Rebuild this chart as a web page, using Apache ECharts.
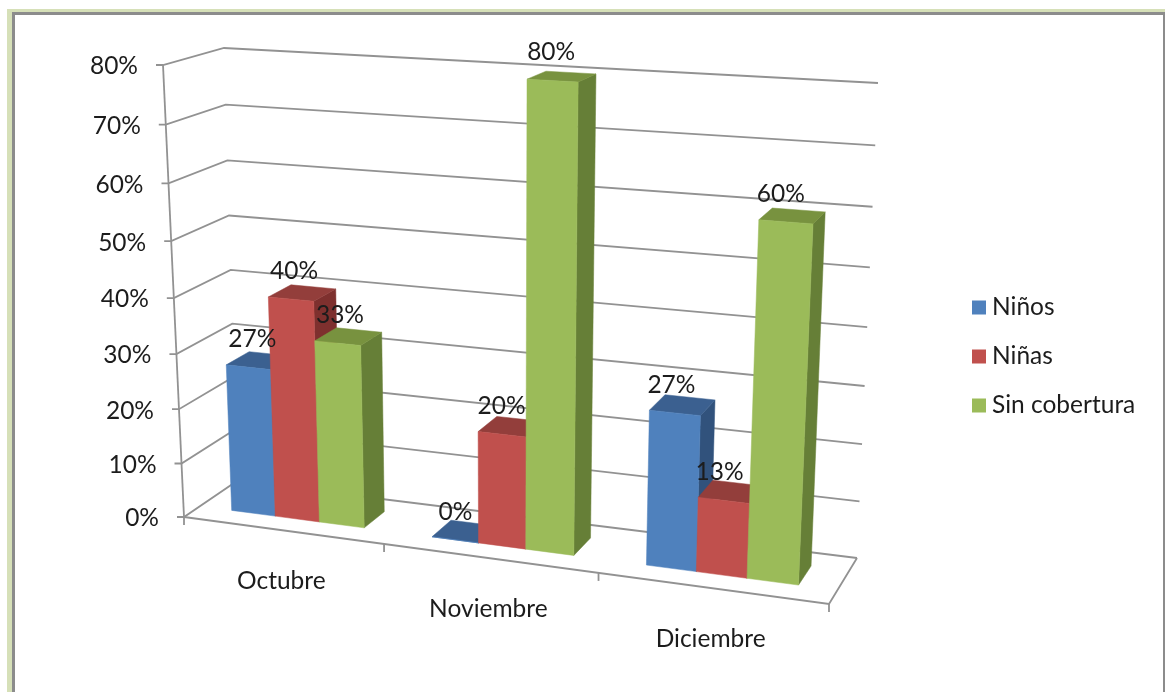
<!DOCTYPE html>
<html><head><meta charset="utf-8">
<style>html,body{margin:0;padding:0;background:#fff}#c{width:1165px;height:692px}</style>
<script src="https://cdn.jsdelivr.net/npm/echarts@6/dist/echarts.min.js"></script>
</head><body><div id="c"></div>
<script>
const categories = ['Octubre', 'Noviembre', 'Diciembre'];
const ninos = [27, 0, 27];
const ninas = [40, 20, 13];
const sinCobertura = [33, 80, 60];
const valueTicks = [0, 10, 20, 30, 40, 50, 60, 70, 80];
const seriesNames = ['Niños', 'Niñas', 'Sin cobertura'];

const FONT = 'Lato, "Open Sans", sans-serif';
const TEXT = '#1c1c1c', LINE = '#929292';
// perspective of the 3D box: screen corners of the front and back planes
function homography(p00, p10, p11, p01) {
  const dx1 = p10[0] - p11[0], dx2 = p01[0] - p11[0], sx = p00[0] - p10[0] + p11[0] - p01[0];
  const dy1 = p10[1] - p11[1], dy2 = p01[1] - p11[1], sy = p00[1] - p10[1] + p11[1] - p01[1];
  const det = dx1 * dy2 - dx2 * dy1;
  const g = (sx * dy2 - dx2 * sy) / det, h = (dx1 * sy - sx * dy1) / det;
  const a = p10[0] - p00[0] + g * p10[0], b = p01[0] - p00[0] + h * p01[0];
  const d = p10[1] - p00[1] + g * p10[1], e = p01[1] - p00[1] + h * p01[1];
  return (t, s) => {
    const q = g * t + h * s + 1;
    return [(a * t + b * s + p00[0]) / q, (d * t + e * s + p00[1]) / q];
  };
}
const frontPlane = homography([184, 517], [829, 604], [852, 104], [163, 65]);
const backPlane = homography([237, 481], [857, 558], [878, 83], [224, 48]);
function project(t, s, w) {
  const f = frontPlane(t, s), b = backPlane(t, s);
  return [f[0] + (b[0] - f[0]) * w, f[1] + (b[1] - f[1]) * w];
}
const DEPTH0 = 0.30, DEPTH1 = 0.72, MARGIN = 0.165, BAR = 0.223;
function norm(params, api, cat, val) {
  const r = params.coordSys, p = api.coord([cat, val]);
  return [(p[0] - r.x) / r.width, (r.y + r.height - p[1]) / r.height, api.size([1, 0])[0] / r.width];
}
function line(points, width) {
  return { type: 'polyline', shape: { points }, style: { stroke: LINE, lineWidth: width || 1.8, fill: null }, silent: true };
}
function text(x, y, str, size, align) {
  return { type: 'text', x, y, silent: true, style: { text: str, fill: TEXT, font: size + 'px ' + FONT, align: align || 'center', verticalAlign: 'middle' } };
}
function poly(points, fill) {
  return { type: 'polygon', shape: { points }, style: { fill, stroke: fill, lineWidth: 0.5 }, silent: true };
}
const shades = [
  { front: '#4F81BD', top: '#3B6090', side: '#31527C' },
  { front: '#C0504D', top: '#933E3B', side: '#7E302E' },
  { front: '#9BBB59', top: '#78923F', side: '#667F37' }
];
function barSeries(name, values, j) {
  return {
    name, type: 'custom', coordinateSystem: 'cartesian2d', z: 3 + j,
    itemStyle: { color: shades[j].front },
    data: values.map((v, i) => [categories[i], v]),
    renderItem(params, api) {
      const n = norm(params, api, api.value(0), api.value(1));
      const t0 = n[0] - n[2] / 2 + (MARGIN + j * BAR) * n[2], t1 = t0 + BAR * n[2], s = n[1];
      const P = (t, h, w) => project(t, h, w);
      const c = shades[j];
      return { type: 'group', children: [
        poly([P(t1, 0, DEPTH0), P(t1, 0, DEPTH1), P(t1, s, DEPTH1), P(t1, s, DEPTH0)], c.side),
        poly([P(t0, s, DEPTH0), P(t1, s, DEPTH0), P(t1, s, DEPTH1), P(t0, s, DEPTH1)], c.top),
        poly([P(t0, 0, DEPTH0), P(t1, 0, DEPTH0), P(t1, s, DEPTH0), P(t0, s, DEPTH0)], c.front)
      ]};
    }
  };
}
const labelData = [];
[ninos, ninas, sinCobertura].forEach((arr, j) => arr.forEach((v, i) => labelData.push([categories[i], v, j])));

const option = {
  animation: false,
  backgroundColor: '#fff',
  textStyle: { fontFamily: FONT },
  grid: { left: 100, top: 60, width: 600, height: 450, show: false },
  xAxis: { type: 'category', data: categories, show: false },
  yAxis: { type: 'value', min: 0, max: 80, interval: 10, show: false },
  legend: {
    data: seriesNames, orient: 'vertical', left: 972, top: 294, padding: 0, itemWidth: 14, itemHeight: 14, itemGap: 22,
    selectedMode: false, icon: 'rect',
    textStyle: { fontFamily: FONT, fontSize: 24.5, color: TEXT, lineHeight: 26, padding: [1, 0, 0, 1] }
  },
  graphic: [
    { type: 'rect', shape: { x: 7, y: 9, width: 1158, height: 3 }, style: { fill: '#D6E0B8' }, silent: true },
    { type: 'rect', shape: { x: 7, y: 9, width: 5, height: 683 }, style: { fill: '#D6E0B8' }, silent: true },
    { type: 'rect', shape: { x: 12, y: 12, width: 1153, height: 3 }, style: { fill: '#8C8C8C' }, silent: true },
    { type: 'rect', shape: { x: 12, y: 12, width: 3, height: 680 }, style: { fill: '#8C8C8C' }, silent: true },
    { type: 'rect', shape: { x: 1163, y: 12, width: 2, height: 680 }, style: { fill: '#8C8C8C' }, silent: true }
  ],
  series: [
    { type: 'custom', name: 'walls', coordinateSystem: 'cartesian2d', z: 1, silent: true,
      data: valueTicks.map(v => [categories[0], v]),
      renderItem(params, api) {
        const s = norm(params, api, api.value(0), api.value(1))[1];
        const f = project(0, s, 0);
        return { type: 'group', children: [
          line([[f[0] - 7, f[1]], f, project(0, s, 1), project(1, s, 1)]),
          text(f[0] - 25, f[1] + 1.5, api.value(1) + '%', 24.5, 'right')
        ]};
      }
    },
    { type: 'custom', name: 'floor', coordinateSystem: 'cartesian2d', z: 2, silent: true,
      data: categories.map(c => [c, 0]).concat([[categories[2], 0]]),
      renderItem(params, api) {
        const i = params.dataIndex, n = categories.length;
        const a = project(i / n, 0, 0);
        const kids = [line([a, [a[0], a[1] + 8]])];
        if (i < n) {
          const m = project((i + 0.5) / n, 0, 0);
          kids.push(text(m[0] - 1, m[1] + 51, categories[i], 24.5));
        } else {
          kids.push(line([project(0, 0, 0), a, project(1, 0, 1)]));
          kids.push(line([project(0, 0, 0), project(0, 1, 0)]));
        }
        return { type: 'group', children: kids };
      }
    },
    barSeries(seriesNames[0], ninos, 0),
    barSeries(seriesNames[1], ninas, 1),
    barSeries(seriesNames[2], sinCobertura, 2),
    { type: 'custom', name: 'labels', coordinateSystem: 'cartesian2d', z: 9, silent: true,
      data: labelData,
      renderItem(params, api) {
        const d = labelData[params.dataIndex];
        const n = norm(params, api, d[0], d[1]);
        const t = n[0] - n[2] / 2 + (MARGIN + (d[2] + 0.5) * BAR) * n[2];
        const p = project(t, n[1], DEPTH0);
        return text(p[0] + 5 - 11 * t, p[1] - 28, d[1] + '%', 24.5);
      }
    }
  ]
};
echarts.init(document.getElementById('c')).setOption(option);
</script></body></html>
